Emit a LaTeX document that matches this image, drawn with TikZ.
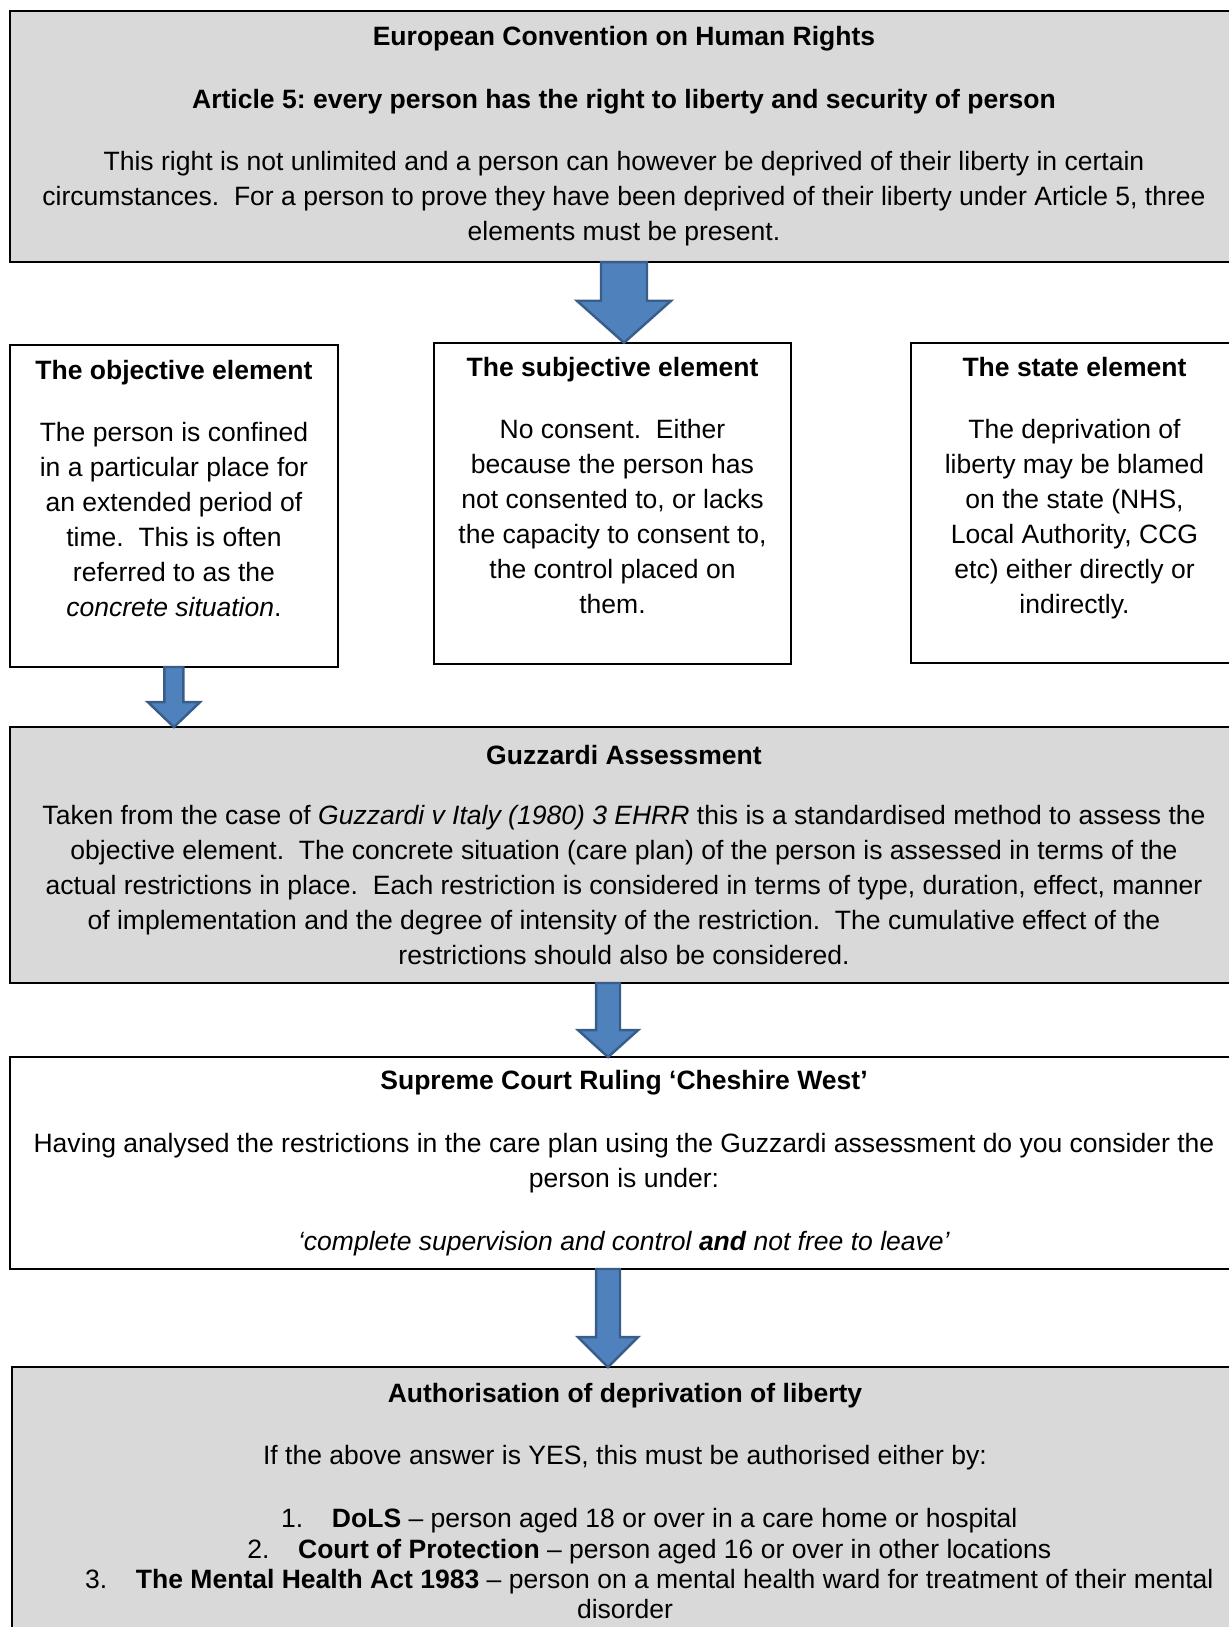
\documentclass[tikz,border=0pt]{standalone}
\usepackage{fontspec}
\setmainfont{Liberation Sans}
\usepackage{tikz}
\usetikzlibrary{calc,positioning}
\frenchspacing

\definecolor{boxgrey}{HTML}{D9D9D9}
\definecolor{arrowfill}{HTML}{4F81BD}
\definecolor{arrowline}{HTML}{385D8A}

\tikzset{
  plainbox/.style={draw=black, line width=0.9pt, fill=white, align=center, inner sep=0pt, outer sep=0pt,
    font=\fontsize{12pt}{15.84pt}\selectfont},
  greybox/.style={plainbox, fill=boxgrey},
  blockarrow/.style={draw=arrowline, fill=arrowfill, line width=1.1pt, line join=miter},
}

\newcommand{\fatarrow}[5]{%
  \draw[blockarrow] let \p1=(#1), \p2=(#2) in
    (\x1-#3,\y1) -- (\x1+#3,\y1) -- (\x1+#3,\y2+#5) -- (\x1+#4,\y2+#5)
    -- (\x1,\y2) -- (\x1-#4,\y2+#5) -- (\x1-#3,\y2+#5) -- cycle;}

\begin{document}
\begin{tikzpicture}

  \useasboundingbox (0,0) rectangle (556.1pt,-736.2pt);

  \node[greybox, minimum width=555.7pt, minimum height=113.6pt, anchor=north west] (echr) at (4.5pt,-5pt)
    {\textbf{European Convention on Human Rights}\\[12.7pt]
     \textbf{Article 5: every person has the right to liberty and security of person}\\[12.2pt]
     This right is not unlimited and a person can however be deprived of their liberty in certain\\
     circumstances.~ For a person to prove they have been deprived of their liberty under Article 5, three\\
     elements must be present.};

  \node[plainbox, minimum width=148.4pt, minimum height=145.7pt, below=37.5pt of echr.south west, anchor=north west] (obj)
    {\textbf{The objective element}\\[12.2pt]
     The person is confined\\in a particular place for\\an extended period of\\time.~ This is often\\
     referred to as the\\\textit{concrete situation}.\\\mbox{}};
  \node[plainbox, minimum width=161.5pt, minimum height=145.3pt, right=43.5pt of obj.north east, anchor=north west, yshift=1pt] (subj)
    {\textbf{The subjective element}\\[12.2pt]
     No consent.~ Either\\because the person has\\not consented to, or lacks\\the capacity to consent to,\\
     the control placed on\\them.\\\mbox{}};
  \node[plainbox, minimum width=148pt, minimum height=144.8pt, right=54.3pt of subj.north east, anchor=north west] (state)
    {\textbf{The state element}\\[12.2pt]
     The deprivation of\\liberty may be blamed\\on the state (NHS,\\Local Authority, CCG\\
     etc) either directly or\\indirectly.\\\mbox{}};

  \node[greybox, minimum width=555.7pt, minimum height=115.8pt, below=27.2pt of obj.south west, anchor=north west] (guz)
    {\textbf{Guzzardi Assessment}\\[11.3pt]
     Taken from the case of \textit{Guzzardi v Italy (1980) 3 EHRR} this is a standardised method to assess the\\
     objective element.~ The concrete situation (care plan) of the person is assessed in terms of the\\
     actual restrictions in place.~ Each restriction is considered in terms of type, duration, effect, manner\\
     of implementation and the degree of intensity of the restriction.~ The cumulative effect of the\\
     restrictions should also be considered.};

  \node[plainbox, minimum width=555.7pt, minimum height=95.9pt, below=33.5pt of guz.south west, anchor=north west] (ches)
    {\textbf{Supreme Court Ruling ‘Cheshire West’}\\[12.7pt]
     Having analysed the restrictions in the care plan using the Guzzardi assessment do you consider the\\
     person is under:\\[12.7pt]
     \textit{‘complete supervision and control \textbf{and} not free to leave’}};

  \node[greybox, minimum width=554.8pt, minimum height=121.3pt, below=44.4pt of ches.south west, anchor=north west, xshift=0.9pt] (auth)
    {\textbf{Authorisation of deprivation of liberty}\\[12.2pt]
     If the above answer is YES, this must be authorised either by:\\[12.7pt]
     \hspace*{22pt}1.\hspace{13pt}\textbf{DoLS} -- person aged 18 or over in a care home or hospital\\[-2.2pt]
     \hspace*{22pt}2.\hspace{13pt}\textbf{Court of Protection} -- person aged 16 or over in other locations\\[-2.2pt]
     \hspace*{22pt}3.\hspace{13pt}\textbf{The Mental Health Act 1983} -- person on a mental health ward for treatment of their mental\\[-2.2pt]
     disorder};

  \coordinate (g1) at ($(guz.south)+(-7.2pt,0)$);
  \coordinate (c1) at ($(ches.south)+(-7.2pt,0)$);

  \fatarrow{echr.south}{echr.south |- subj.north}{10.4pt}{21.3pt}{19pt}
  \fatarrow{obj.south}{obj.south |- guz.north}{4.3pt}{11.8pt}{11.3pt}
  \fatarrow{g1}{g1 |- ches.north}{5.4pt}{13.6pt}{12.2pt}
  \fatarrow{c1}{c1 |- auth.north}{5.4pt}{13.6pt}{13.6pt}

\end{tikzpicture}
\end{document}
